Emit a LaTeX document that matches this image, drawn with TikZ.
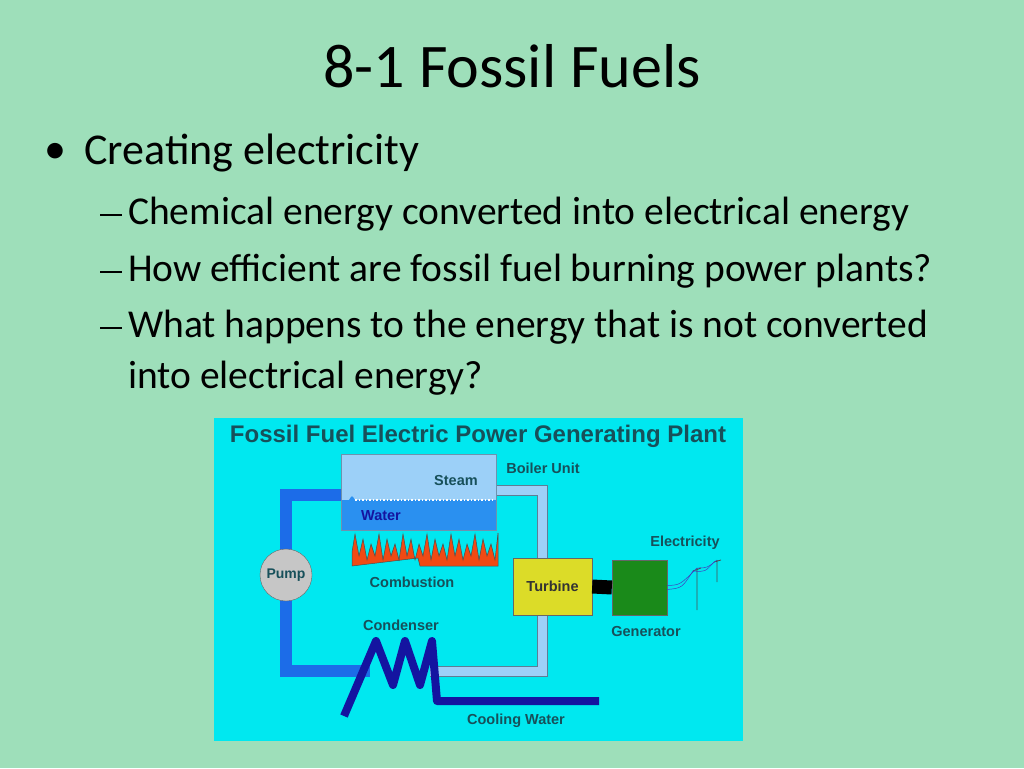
\documentclass[tikz,border=0pt]{standalone}
\usepackage{fontspec}
\setmainfont{Carlito}
\newfontfamily\diag{Liberation Sans}
\definecolor{bg}{HTML}{9EDFBA}
\definecolor{cyanbg}{HTML}{00E8F0}
\definecolor{lbl}{HTML}{17505A}
\definecolor{steamc}{HTML}{9CD0F8}
\definecolor{waterc}{HTML}{2A90F0}
\definecolor{pipeD}{HTML}{1C6CE8}
\definecolor{pipeL}{HTML}{9CD0F8}
\definecolor{coil}{HTML}{1414A0}
\definecolor{flame}{HTML}{F04A14}
\definecolor{turb}{HTML}{DCDC28}
\definecolor{gen}{HTML}{1A8A1A}
\tikzset{lab/.style={font=\diag\bfseries\fontsize{14.5}{16}\selectfont,text=lbl,inner sep=0pt}}
\begin{document}
\begin{tikzpicture}[x=1pt,y=-1pt]
\fill[bg] (0,0) rectangle (1024,768);
\useasboundingbox (0,0) rectangle (1024,768);
\node[font=\fontsize{62}{68}\selectfont] (title) at (512,66) {8-1 Fossil Fuels};
\node[font=\fontsize{44}{48}\selectfont,anchor=west,inner sep=0pt] (bd) at (44,153) {\textbullet};
\node[font=\fontsize{44}{48}\selectfont,anchor=west,inner sep=0pt] (b1) at (84,153) {Creating electricity};
\tikzset{sub/.style={font=\fontsize{39.5}{43}\selectfont,anchor=west,inner sep=0pt},
  dashl/.style={anchor=west,inner sep=0pt,fill=black,minimum width=22pt,minimum height=2pt}}
\node[dashl] (d1) at (100,215) {};
\node[sub] (s1) at (128,214) {Chemical energy converted into electrical energy};
\node[dashl] (d2) at (100,272) {};
\node[sub] (s2) at (128,271) {How efficient are fossil fuel burning power plants?};
\node[dashl] (d3) at (100,328) {};
\node[sub] (s3) at (128,327) {What happens to the energy that is not converted};
\node[sub] (s4) at (128,378) {into electrical energy?};
% diagram
\fill[cyanbg] (214,418) rectangle (743,741);
\node[font=\diag\bfseries\fontsize{24}{26}\selectfont,text=lbl] (dt) at (478,436) {Fossil Fuel Electric Power Generating Plant};
% light pipe (right loop)
\draw[line width=11pt,pipeL!60!black] (496,490) -- (542,490) -- (542,671) -- (430,671);
\draw[line width=9pt,pipeL] (496,490) -- (542,490) -- (542,671) -- (430,671);
% dark pipe (left loop)
\draw[line width=12pt,pipeD] (345,495) -- (286,495) -- (286,671) -- (370,671);
% boiler
\fill[steamc] (341,454) rectangle (496,530);
\fill[waterc] (341,500) -- (349,500) .. controls (352,495) .. (355,500) -- (496,500) -- (496,530) -- (341,530) -- cycle;
\draw[white,line width=1.5pt,dotted] (355,500) -- (494,500);
\draw[steamc!70!black,line width=0.6pt] (341,454) rectangle (496,530);
% flames
\fill[flame,draw=black!70,line width=0.5pt] (352,566) -- (352,552)
  \foreach \i in {0,...,17} { -- ({355+\i*8},{534+mod(\i,3)*5}) -- ({359+\i*8},{556+mod(\i,2)*4}) } -- (498,533) -- (498,566) -- (420,566) -- (418,558) -- cycle;
% pump
\node[circle,draw=black!60,fill=gray!45,minimum size=52pt,inner sep=0pt,font=\diag\bfseries\fontsize{14}{15}\selectfont,text=lbl] (pump) at (286,575) {Pump};
% condenser coil
\draw[coil,line width=8pt,line join=round] (344,716) -- (376,641) -- (393,685) -- (405,641) -- (420,685) -- (432,641) -- (437,701) -- (599,701);
% turbine & generator
\node[draw=black!60,fill=turb,minimum width=79pt,minimum height=57pt,inner sep=0pt,font=\diag\bfseries\fontsize{14.5}{16}\selectfont,text=black!80] (turbine) at (552.5,586.5) {Turbine};
\node[draw=black!60,fill=gen,minimum width=55pt,minimum height=55pt,inner sep=0pt] (gen) at (639.5,587.5) {};
\draw[line width=14pt,black] (turbine.east) -- (gen.west);
% power lines
\coordinate (p1t) at (697,568);
\coordinate (p1b) at (697,610);
\coordinate (p2t) at (717,560);
\coordinate (p2b) at (717,582);
\draw[gray!60!black,line width=0.8pt] (p1t) -- (p1b) (p2t) -- (p2b) (693,571) -- (701,568) (714,562) -- (721,560);
\draw[gray!50!blue,line width=0.5pt] (gen.east) ++(0,-2) .. controls (680,585) .. (p1t) .. controls (707,568) .. (p2t);
\draw[gray!50!blue,line width=0.5pt] (gen.east) ++(0,2) .. controls (682,588) .. (693,571) .. controls (705,572) .. (714,562);
% labels
\node[lab] (lb) at (543,468) {Boiler Unit};
\node[lab] (ls) at (456,481) {Steam};
\node[lab,text=coil] (lw) at (381,516) {Water};
\node[lab] (lc) at (412,582) {Combustion};
\node[lab] (le) at (685,543) {Electricity};
\node[lab] (lg) at (646,631) {Generator};
\node[lab] (lco) at (401,625) {Condenser};
\node[lab] (lcw) at (516,721) {Cooling Water};
\end{tikzpicture}
\end{document}
